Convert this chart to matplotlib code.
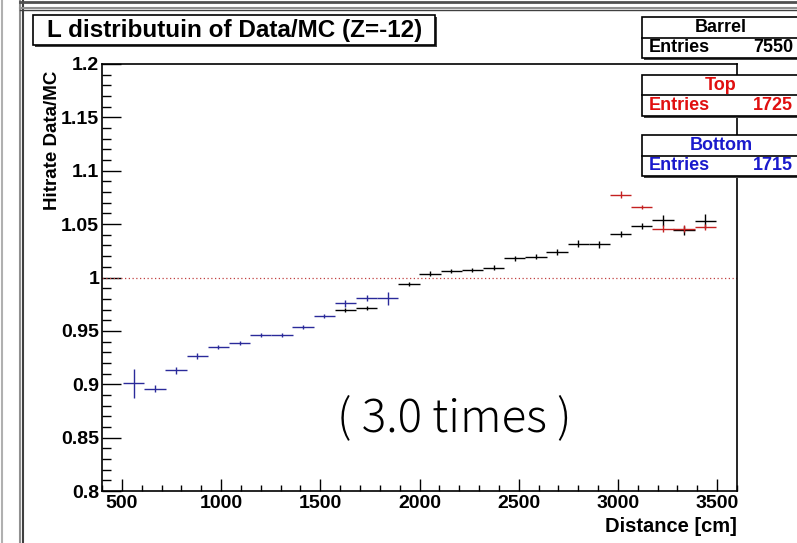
import numpy as np
import matplotlib
matplotlib.use("Agg")
import matplotlib.pyplot as plt
from matplotlib.patches import Rectangle
from matplotlib.lines import Line2D
from matplotlib.ticker import MultipleLocator

# ---- data ----
bin_width = 106.7

bottom_x = [560, 667, 773, 880, 987, 1093, 1200, 1307, 1413, 1520, 1627, 1733, 1840]
bottom_y = [0.901, 0.896, 0.913, 0.9265, 0.935, 0.9386, 0.9458, 0.9458, 0.9533,
            0.9638, 0.9757, 0.981, 0.9804]
bottom_err = [0.0137, 0.003, 0.003, 0.003, 0.002, 0.002, 0.002, 0.002, 0.002,
              0.002, 0.003, 0.003, 0.006]

barrel_x = [1627, 1733, 1947, 2053, 2160, 2267, 2373, 2480, 2587, 2693, 2800,
            2907, 3013, 3120, 3227, 3333, 3440]
barrel_y = [0.9694, 0.9717, 0.9938, 1.0037, 1.0059, 1.0068, 1.0093, 1.0178,
            1.0196, 1.024, 1.0318, 1.031, 1.0405, 1.0483, 1.0536, 1.0442, 1.0527]
barrel_err = [0.002, 0.002, 0.002, 0.002, 0.002, 0.002, 0.002, 0.002, 0.002,
              0.003, 0.003, 0.003, 0.003, 0.003, 0.005, 0.004, 0.0065]

top_x = [3013, 3120, 3227, 3333, 3440]
top_y = [1.0776, 1.0658, 1.0458, 1.0458, 1.0474]
top_err = [0.003, 0.002, 0.003, 0.003, 0.003]

stats = [("Barrel", 7550, "black"), ("Top", 1725, "#e01010"), ("Bottom", 1715, "#1a1acc")]

W, H = 797, 543
plt.rcParams['font.family'] = ['Liberation Sans', 'DejaVu Sans']

fig = plt.figure(figsize=(W / 100, H / 100), dpi=100)
fig.patch.set_facecolor("white")


def fx(x):
    return x / W


def fy(y):
    return 1 - y / H


# canvas frame lines (grey window borders)
for x, c, lw in [(2, "#b0b0b0", 1.5), (20, "#909090", 1.5), (23, "#404040", 1.5)]:
    fig.add_artist(Line2D([fx(x), fx(x)], [0, 1], color=c, lw=lw))
for y, c, lw in [(1.5, "#505050", 2), (8, "#909090", 1.5), (10, "#404040", 1)]:
    fig.add_artist(Line2D([fx(20), 1], [fy(y), fy(y)], color=c, lw=lw))

ax = fig.add_axes([fx(102), fy(491), fx(737) - fx(102), fy(64) - fy(491)])
ax.set_xlim(400, 3600)
ax.set_ylim(0.8, 1.2)

ax.axhline(1.0, color="#c04040", ls=(0, (1, 2)), lw=0.9)

ax.errorbar(barrel_x, barrel_y, xerr=bin_width / 2, yerr=barrel_err, fmt="none",
            ecolor="black", elinewidth=1.0)
ax.errorbar(bottom_x, bottom_y, xerr=bin_width / 2, yerr=bottom_err, fmt="none",
            ecolor="#2a2a9a", elinewidth=1.0)
ax.errorbar(top_x, top_y, xerr=bin_width / 2, yerr=top_err, fmt="none",
            ecolor="#c42020", elinewidth=1.0)

ax.xaxis.set_major_locator(MultipleLocator(500))
ax.xaxis.set_minor_locator(MultipleLocator(100))
ax.yaxis.set_minor_locator(MultipleLocator(0.01))
ax.set_yticks([0.8, 0.85, 0.9, 0.95, 1.0, 1.05, 1.1, 1.15, 1.2])
ax.set_yticklabels(["0.8", "0.85", "0.9", "0.95", "1", "1.05", "1.1", "1.15", "1.2"])
ax.tick_params(axis="x", which="major", direction="in", length=9, width=1, labelsize=14, pad=3)
ax.tick_params(axis="x", which="minor", direction="in", length=4.5, width=1)
ax.tick_params(axis="y", which="major", direction="in", length=14, width=1, labelsize=14, pad=2)
ax.tick_params(axis="y", which="minor", direction="in", length=6.5, width=1)
for lab in ax.get_xticklabels() + ax.get_yticklabels():
    lab.set_fontweight("bold")
for s in ax.spines.values():
    s.set_linewidth(1.2)

fig.text(fx(737), fy(527), "Distance [cm]", ha="right", va="center",
         fontsize=14.5, fontweight="bold")
fig.text(fx(53), fy(140), "Hitrate Data/MC", ha="center", va="center",
         rotation=90, fontsize=13.5, fontweight="bold")

fig.text(fx(454), fy(418), "( 3.0 times )", ha="center", va="center",
         fontsize=33, fontweight="light",
         family=["Noto Sans CJK JP", "DejaVu Sans"])

# title box with shadow
fig.add_artist(Rectangle((fx(35), fy(47)), fx(402), fy(15) - fy(45),
                         facecolor="#404040", edgecolor="none"))
fig.add_artist(Rectangle((fx(33), fy(45)), fx(402), fy(15) - fy(45),
                         facecolor="white", edgecolor="black", lw=1.2))
fig.text(fx(47), fy(30), "L distributuin of Data/MC (Z=-12)", ha="left", va="center",
         fontsize=17.5, fontweight="bold")

# stat boxes
box_tops = [17, 75, 135]
for (name, n, col), t in zip(stats, box_tops):
    b = t + 41
    mid = t + 20.5
    fig.add_artist(Rectangle((fx(644), fy(b + 2)), fx(160), fy(t) - fy(b),
                             facecolor="#404040", edgecolor="none"))
    fig.add_artist(Rectangle((fx(642), fy(b)), fx(160), fy(t) - fy(b),
                             facecolor="white", edgecolor="black", lw=1.2))
    fig.add_artist(Line2D([fx(642), 1], [fy(mid), fy(mid)], color="black", lw=1.2))
    fig.text(fx(721), fy((t + mid) / 2), name, ha="center", va="center",
             fontsize=13, fontweight="bold", color=col)
    fig.text(fx(649), fy((mid + b) / 2), "Entries", ha="left", va="center",
             fontsize=13, fontweight="bold", color=col)
    fig.text(fx(793), fy((mid + b) / 2), str(n), ha="right", va="center",
             fontsize=13, fontweight="bold", color=col)

fig.savefig("out.png", dpi=100)
